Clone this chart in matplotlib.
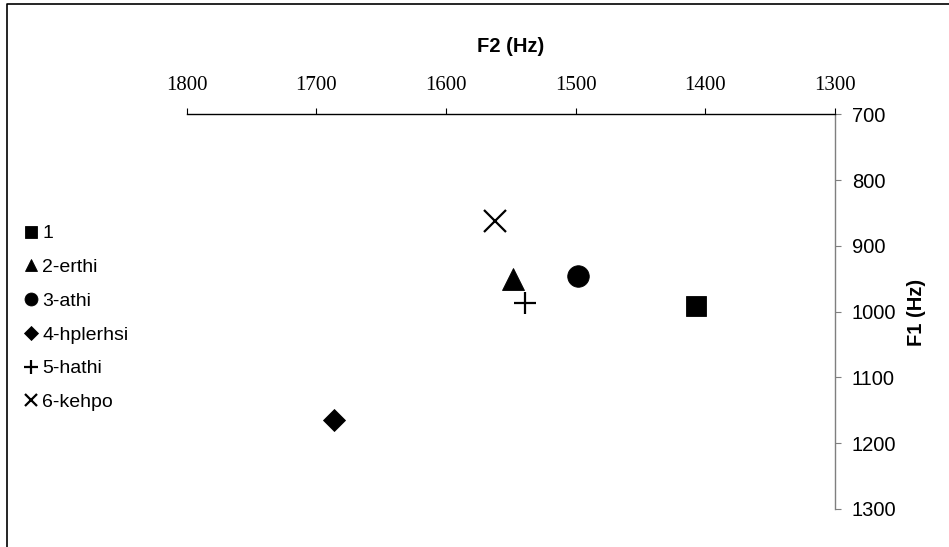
import matplotlib.pyplot as plt
from matplotlib.lines import Line2D

# vowel formant values (Hz)
labels = ['1', '2-erthi', '3-athi', '4-hplerhsi', '5-hathi', '6-kehpo']
f2 = [1407, 1548, 1498, 1686, 1539, 1562]
f1 = [991, 950, 946, 1165, 987, 862]
markers = ['s', '^', 'o', 'D', '+', 'x']
sizes = [14.5, 15.5, 15.5, 11.5, 16, 15.5]

x_ticks = [1800, 1700, 1600, 1500, 1400, 1300]
y_ticks = [700, 800, 900, 1000, 1100, 1200, 1300]

W, H = 949, 547
fig = plt.figure(figsize=(W / 100, H / 100), dpi=100)
ax = fig.add_axes([186.7 / W, 1 - 509 / H, 648 / W, 394.7 / H])

for lab, x, y, m, s in zip(labels, f2, f1, markers, sizes):
    if m in '+x':
        ax.plot([x], [y], linestyle='none', marker=m, markersize=s,
                color='black', markeredgewidth=1.6, label=lab, clip_on=False)
    else:
        ax.plot([x], [y], linestyle='none', marker=m, markersize=s,
                color='black', markeredgewidth=0.6, label=lab, clip_on=False)

ax.set_xlim(1800, 1300)
ax.set_ylim(1300, 700)
ax.set_xticks(x_ticks)
ax.set_yticks(y_ticks)

# axes only on top (F2) and right (F1)
ax.spines['left'].set_visible(False)
ax.spines['bottom'].set_visible(False)
ax.spines['top'].set_color('black')
ax.spines['top'].set_linewidth(1.0)
ax.spines['right'].set_color('#7f7f7f')
ax.spines['right'].set_linewidth(1.0)

ax.xaxis.tick_top()
ax.yaxis.tick_right()
ax.tick_params(axis='x', direction='out', length=4.3, width=0.8, color='black', pad=9.5)
ax.tick_params(axis='y', direction='out', length=4.3, width=0.8, color='#7f7f7f', pad=8)
for t in ax.get_xticklabels():
    t.set_fontfamily('Liberation Serif')
    t.set_fontsize(15)
for t in ax.get_yticklabels():
    t.set_fontfamily('Liberation Sans')
    t.set_fontsize(14.5)

fig.text(511 / W, 1 - 46 / H, 'F2 (Hz)', ha='center', va='center',
         fontfamily='Liberation Sans', fontweight='bold', fontsize=14.5)
fig.text(917 / W, 1 - 312 / H, 'F1 (Hz)', ha='center', va='center', rotation=90,
         fontfamily='Liberation Sans', fontweight='bold', fontsize=14.5)

leg = fig.legend(loc='upper left', bbox_to_anchor=(14 / W, 1 - 215 / H),
                 frameon=False, markerscale=0.6, handlelength=0.7,
                 handletextpad=0.25, labelspacing=0.83, borderpad=0,
                 prop={'family': 'Liberation Sans', 'size': 14})

# outer frame (left and top only visible)
fig.add_artist(Line2D([7 / W, 7 / W, 1.0], [0, 1 - 4.3 / H, 1 - 4.3 / H],
                      transform=fig.transFigure, color='black', linewidth=1.2))

fig.savefig('out.png', dpi=100)
